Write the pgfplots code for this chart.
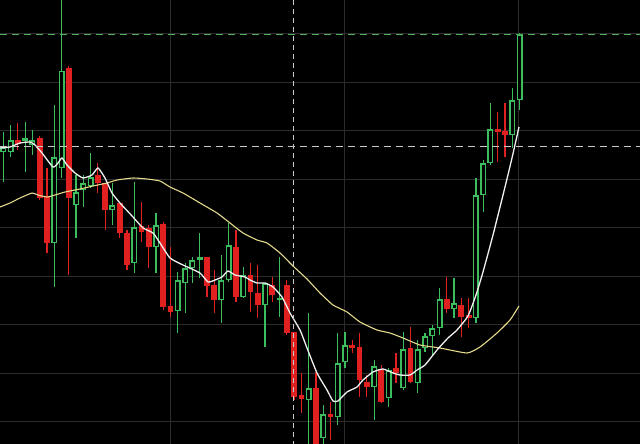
\documentclass[border=0pt]{standalone}
\usepackage{pgfplots}
\usepackage{pgfplotstable}
\pgfplotsset{compat=1.18}
\definecolor{cgreen}{RGB}{60,190,95}
\definecolor{cred}{RGB}{225,32,32}
\definecolor{mawhite}{RGB}{240,240,240}
\definecolor{mayellow}{RGB}{228,218,140}
\definecolor{gridc}{RGB}{44,44,44}
\definecolor{dashw}{RGB}{200,200,200}
\definecolor{dashg}{RGB}{80,175,90}
% x = candle centre, top/bot = body edges, hi/lo = wick ends (screen units, y downwards)
\pgfplotstableread{
x top bot hi lo
3.3 147 152 132 182
10.6 140 152 125 157
25.1 138 141 122 172
32.4 140 145 130 155
54.2 157 243 105 287
61.5 71 168 0 178
76.0 192 205 175 238
83.3 183 190 175 207
90.5 177 186 153 188
112.4 205 210 183 225
134.2 227 263 182 273
156.0 225 247 213 273
177.8 280 311 272 333
185.1 268 283 263 313
192.3 260 268 257 283
199.6 257 260 233 278
221.4 280 300 255 323
228.7 245 280 223 282
243.2 275 297 267 298
265.0 283 305 283 347
279.6 298 300 257 317
308.6 388 400 313 444
323.2 414 438 405 444
337.7 363 417 333 425
345.0 345 362 332 368
374.1 366 387 360 420
388.6 370 398 368 407
403.2 349 388 332 390
417.7 349 383 340 393
425.0 336 348 333 352
432.2 328 336 325 355
439.5 299 328 288 335
454.0 303 309 278 318
475.9 195 318 178 323
483.1 163 195 160 212
490.4 129 163 103 165
512.2 100 135 88 148
519.5 35 100 33 110
}\greentab
\pgfplotstableread{
x top bot hi lo
17.8 140 144 123 150
39.7 138 198 136 200
46.9 196 243 168 253
68.7 68 198 66 275
97.8 175 183 163 193
105.1 183 210 183 230
119.6 203 233 203 238
126.9 233 265 230 270
141.4 226 232 202 242
148.7 228 247 225 268
163.2 224 307 222 310
170.5 306 312 247 317
206.9 257 286 257 297
214.1 285 300 270 313
235.9 247 297 230 302
250.5 275 292 263 312
257.8 293 305 265 318
272.3 285 295 277 302
286.8 285 333 280 335
294.1 332 397 332 400
301.4 395 399 373 413
315.9 388 450 372 450
330.5 414 417 402 440
352.3 345 348 340 353
359.5 347 380 333 397
366.8 382 387 375 397
381.3 369 402 365 403
395.9 368 373 353 383
410.4 348 382 327 383
446.8 299 309 277 313
461.3 305 317 298 337
468.6 315 318 298 328
497.7 129 132 112 162
504.9 131 135 103 157
}\redtab
\begin{document}
\begin{tikzpicture}
\begin{axis}[name=ax,
  width=640pt, height=444pt, scale only axis,
  xmin=0, xmax=640, ymin=0, ymax=444, y dir=reverse,
  axis line style={draw=none},
  axis background/.style={fill=black},
  xtick={170,344,518}, ytick={33.5,82,130.5,179,227.5,276,324.5,373,421.5},
  xticklabels={}, yticklabels={}, major tick length=0pt,
  grid=major, major grid style={color=gridc, line width=0.9pt},
  every axis plot/.append style={line cap=butt},
]
% wicks
\addplot[cgreen, line width=1.2pt, mark=none, quiver={u=0, v=\thisrow{lo}-\thisrow{hi}}, -]
  table[x=x, y=hi] {\greentab};
\addplot[cred, line width=1.2pt, mark=none, quiver={u=0, v=\thisrow{lo}-\thisrow{hi}}, -]
  table[x=x, y=hi] {\redtab};
% bodies
\addplot[cgreen, line width=6pt, mark=none, quiver={u=0, v=\thisrow{bot}-\thisrow{top}}, -]
  table[x=x, y=top] {\greentab};
\addplot[black, line width=3pt, mark=none, quiver={u=0, v={max(\thisrow{bot}-\thisrow{top}-3,0)}}, -]
  table[x=x, y expr=\thisrow{top}+1.5] {\greentab};
\addplot[cred, line width=5.8pt, mark=none, quiver={u=0, v=\thisrow{bot}-\thisrow{top}}, -]
  table[x=x, y=top] {\redtab};
% moving averages
\addplot[mayellow, line width=1.1pt, smooth, tension=0.3] coordinates {
(0,207) (10,203) (20,198) (32,193) (38,195) (47,197) (55,195) (65,192) (80,189) (93,186)
(107,183) (117,180) (133,178) (147,179) (160,181) (170,187) (183,193) (200,203) (217,213)
(230,223) (243,233) (257,240) (267,243) (280,253) (293,266) (307,279) (320,293) (333,305)
(347,312) (360,322) (377,330) (390,333) (403,338) (420,345) (440,348) (467,353) (480,347)
(497,333) (510,320) (519,306)};
\addplot[mawhite, line width=1.3pt, smooth, tension=0.3] coordinates {
(0,148) (10,147) (20,143) (30,142) (35,145) (42,153) (53,167) (58,163) (62,158) (67,165)
(75,173) (83,178) (92,175) (98,168) (105,178) (112,193) (120,203) (133,217) (143,228)
(153,233) (160,243) (170,258) (183,265) (200,273) (208,282) (215,280) (222,277) (228,271)
(235,275) (245,277) (250,280) (257,283) (265,283) (273,287) (282,297) (290,313) (300,330)
(307,348) (317,373) (327,390) (333,401) (338,401) (347,392) (357,387) (363,380) (373,372)
(383,369) (393,373) (400,375) (410,375) (417,370) (425,365) (437,350) (448,338) (457,330)
(468,316) (476,295) (483,272) (493,235) (505,187) (512,158) (519,127)};
% crosshair and price lines
\addplot[dashg, line width=1pt, dash pattern=on 7pt off 5pt] coordinates {(0,35) (640,35)};
\addplot[dashw, line width=0.9pt, dash pattern=on 7pt off 5pt] coordinates {(0,146) (640,146)};
\addplot[dashw, line width=0.9pt, dash pattern=on 5pt off 4pt] coordinates {(293,0) (293,444)};
\end{axis}
\pgfresetboundingbox
\path (ax.south west) rectangle (ax.north east);
\end{tikzpicture}
\end{document}
